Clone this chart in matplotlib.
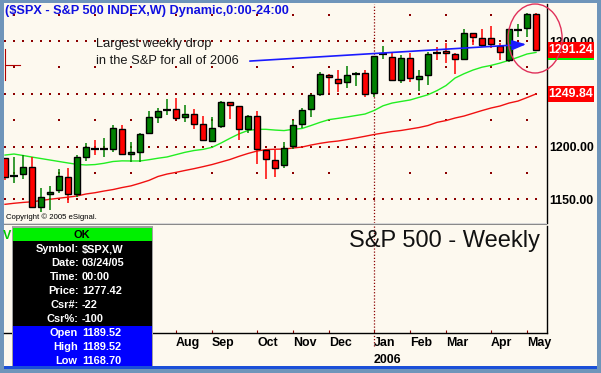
import numpy as np
import matplotlib.pyplot as plt
import matplotlib.transforms as mtransforms
from matplotlib.patches import Rectangle, Ellipse
from matplotlib.lines import Line2D

plt.rcParams['font.family'] = ['Liberation Sans', 'DejaVu Sans']

W, H = 601, 373

# weekly bars of $SPX, week ending 03/24/05 .. 05/12/06
opens = [1189.5, 1171.6, 1173.6, 1181.0, 1143.0, 1154.8, 1158.8, 1171.4, 1154.7, 1189.7,
         1198.0, 1197.6, 1197.6, 1216.5, 1192.8, 1194.6, 1213.0, 1227.7, 1233.9, 1235.3,
         1227.7, 1230.5, 1221.0, 1205.0, 1219.0, 1242.0, 1238.0, 1217.0, 1228.6, 1196.7,
         1187.0, 1182.5, 1200.5, 1221.0, 1235.3, 1249.8, 1268.0, 1264.3, 1261.0, 1268.4,
         1269.4, 1250.4, 1287.0, 1285.0, 1262.7, 1283.6, 1264.3, 1267.5, 1289.3, 1290.2,
         1287.4, 1283.2, 1307.3, 1302.6, 1302.6, 1295.3, 1282.0, 1310.3, 1312.3, 1325.6]
highs = [1189.5, 1189.7, 1192.0, 1190.0, 1160.4, 1162.5, 1178.4, 1179.3, 1192.0, 1203.6,
         1206.2, 1207.8, 1220.0, 1220.0, 1204.0, 1213.0, 1233.6, 1236.8, 1245.0, 1246.0,
         1239.3, 1236.0, 1229.0, 1227.7, 1243.0, 1242.5, 1238.5, 1229.9, 1233.6, 1197.5,
         1196.7, 1204.0, 1225.0, 1236.5, 1249.7, 1270.6, 1268.5, 1273.0, 1276.3, 1271.0,
         1272.3, 1286.0, 1295.3, 1288.5, 1286.7, 1289.0, 1272.3, 1289.6, 1294.6, 1298.4,
         1289.0, 1311.0, 1307.8, 1311.0, 1314.0, 1297.8, 1311.5, 1316.0, 1326.5, 1326.5]
lows = [1168.7, 1165.7, 1169.0, 1142.0, 1138.2, 1140.0, 1155.6, 1146.7, 1152.5, 1186.5,
        1192.0, 1190.5, 1194.5, 1192.0, 1185.0, 1185.0, 1211.6, 1222.0, 1229.9, 1227.0,
        1223.5, 1217.0, 1205.0, 1205.0, 1218.0, 1226.0, 1206.0, 1212.8, 1183.4, 1169.0,
        1171.4, 1179.5, 1198.0, 1217.8, 1227.6, 1247.6, 1250.4, 1252.0, 1255.5, 1257.6,
        1247.4, 1246.9, 1283.0, 1261.9, 1260.2, 1261.6, 1252.4, 1258.6, 1282.0, 1279.4,
        1268.7, 1282.5, 1296.2, 1294.6, 1293.7, 1282.0, 1280.5, 1304.0, 1303.5, 1290.5]
closes = [1171.4, 1172.0, 1180.9, 1143.0, 1151.8, 1157.0, 1171.8, 1154.7, 1189.7, 1199.2,
          1197.6, 1198.0, 1217.2, 1192.9, 1194.6, 1211.8, 1227.7, 1233.6, 1234.3, 1227.3,
          1230.8, 1221.0, 1206.0, 1218.0, 1242.0, 1239.0, 1216.3, 1228.6, 1197.3, 1187.9,
          1180.0, 1198.4, 1220.0, 1234.3, 1248.5, 1268.4, 1265.6, 1260.0, 1267.5, 1268.7,
          1249.8, 1285.6, 1287.4, 1262.7, 1283.6, 1264.6, 1266.5, 1287.4, 1289.0, 1288.3,
          1282.7, 1307.9, 1303.5, 1296.2, 1296.9, 1289.9, 1311.0, 1310.6, 1325.6, 1291.24]

# moving averages (green = short, red = long)
ma_fast = [1191.9, 1192.9, 1191.5, 1190.0, 1188.6, 1187.2, 1185.8, 1184.4, 1183.1, 1182.5,
           1182.9, 1184.1, 1185.8, 1186.4, 1186.3, 1186.3, 1187.5, 1188.9, 1190.1, 1192.3,
           1194.5, 1196.2, 1197.3, 1199.2, 1203.3, 1207.8, 1212.0, 1215.2, 1216.3, 1216.3,
           1215.6, 1215.1, 1216.3, 1217.1, 1219.9, 1222.9, 1225.5, 1226.7, 1228.0, 1229.4,
           1230.8, 1234.1, 1238.6, 1241.2, 1242.7, 1244.1, 1246.6, 1249.1, 1253.0, 1257.8,
           1264.9, 1269.0, 1272.5, 1275.2, 1276.9, 1279.1, 1281.7, 1284.6, 1287.7, 1289.2]
ma_slow = [1145.2, 1146.2, 1147.0, 1147.6, 1148.8, 1150.0, 1151.0, 1152.0, 1153.1, 1155.0,
           1156.2, 1157.8, 1159.2, 1161.1, 1162.7, 1165.2, 1167.9, 1171.6, 1173.9, 1175.5,
           1177.3, 1179.0, 1180.9, 1182.9, 1185.3, 1187.7, 1190.7, 1193.4, 1195.7, 1197.1,
           1197.4, 1197.6, 1198.6, 1199.5, 1201.4, 1203.0, 1204.3, 1205.2, 1206.6, 1208.1,
           1209.7, 1211.4, 1212.8, 1214.2, 1215.2, 1216.6, 1218.0, 1219.9, 1222.9, 1224.6,
           1227.0, 1228.9, 1231.5, 1234.1, 1236.5, 1238.4, 1241.2, 1243.1, 1246.4, 1249.84]

# first bar of each month (Apr..Jul 2005 sit under the data window)
grid_bars = [1, 6, 10, 14, 19, 23, 28, 32, 36, 41, 45, 49, 54, 58]
tick_bars = [19, 23, 28, 32, 36, 41, 45, 49, 54, 58]
tick_labels = ['Aug', 'Sep', 'Oct', 'Nov', 'Dec', 'Jan', 'Feb', 'Mar', 'Apr', 'May']
year_bar = 41
year_label = '2006'
price_ticks = [1150, 1200, 1250, 1300]
price_tick_labels = ['1150.00', '1200.00', '', '1300.00']

info_rows = [('Symbol:', '$SPX,W'), ('Date:', '03/24/05'), ('Time:', '00:00'),
             ('Price:', '1277.42'), ('Csr#:', '-22'), ('Csr%:', '-100')]
ohlc_rows = [('Open', '1189.52'), ('High', '1189.52'), ('Low', '1168.70')]

# annotation (bar index, price)
arrow_from = (27.2, 1281.0)
arrow_to = (57.9, 1296.9)
circle_center = (58.9, 1302.4)
circle_size = (6.0, 65.4)

FRAME = '#6f95ba'
CREAM = '#fdf9ef'
GREEN = '#008000'
RED = '#ff0000'
GRID = '#8b0000'


def fx(px):
    return px / W


def fy(py):
    return 1 - py / H


def figRect(x0, y0, x1, y1, color, z):
    fig.add_artist(Rectangle((fx(x0), fy(y1)), (x1 - x0) / W, (y1 - y0) / H,
                             transform=fig.transFigure, facecolor=color,
                             edgecolor='none', zorder=z))


fig = plt.figure(figsize=(W / 100, H / 100), dpi=100)
fig.patch.set_facecolor(FRAME)
figRect(4, 3, 597, 366, CREAM, -2)

# ---- price pane ----
ax = fig.add_axes([fx(4), fy(223), 543 / W, 219 / H])
ax.set_facecolor('none')
ax.set_zorder(1)
ax.set_xlim(-0.11, 60.22)
ax.set_ylim(1127.5, 1335.1)
for s in ['left', 'top', 'bottom']:
    ax.spines[s].set_visible(False)
ax.spines['right'].set_color('black')
ax.spines['right'].set_linewidth(1.0)
ax.set_xticks([])
ax.yaxis.tick_right()
ax.set_yticks(price_ticks)
ax.set_yticklabels(price_tick_labels, fontweight='bold', fontsize=8.9)
ax.tick_params(axis='y', length=0, pad=1.5)

x = np.arange(len(closes))
o = np.array(opens)
c = np.array(closes)

# dotted grid
for lev in price_ticks:
    ax.scatter(x, [lev] * len(x), s=0.9, marker='s', color=GRID, lw=0, zorder=0.5)
grid_levels = np.arange(1150, 1330, 25)
for b in grid_bars:
    if b != year_bar:
        ax.scatter([b] * len(grid_levels), grid_levels, s=0.9, marker='s',
                   color=GRID, lw=0, zorder=0.5)
ax.axvline(year_bar, color=GRID, lw=0.9, ls=(0, (1, 1.5)), zorder=0.5)

# moving averages
ax.plot(x, ma_slow, color='#f01010', lw=1.0, zorder=1)
ax.plot(x, ma_fast, color='#22ee22', lw=1.0, zorder=1)

# candles
up = c >= o
ax.vlines(x, lows, highs, colors=np.where(up, GREEN, RED), lw=1.1, zorder=2)
doji = np.abs(c - o) < 1.0
body = ~doji
ax.bar(x[body], (c - o)[body], bottom=o[body], width=0.68,
       color=np.where(up, GREEN, RED)[body], edgecolor='black', lw=1.0, zorder=3)
ax.hlines(c[doji], x[doji] - 0.42, x[doji] + 0.42, color='black', lw=1.6, zorder=3)

# price tags on the right axis
blend = mtransforms.blended_transform_factory(ax.transAxes, ax.transData)
tag_h = 14.8
for val, col in [(ma_fast[-1], '#00ee00'), (closes[-1], RED), (ma_slow[-1], RED)]:
    ax.add_patch(Rectangle((1.002, val - tag_h / 2), 0.085, tag_h, transform=blend,
                           facecolor=col, edgecolor='none', clip_on=False, zorder=5))
for val in [closes[-1], ma_slow[-1]]:
    ax.text(1.044, val, '%.2f' % val, transform=blend, color='white', fontweight='bold',
            fontsize=8.9, ha='center', va='center', zorder=6, clip_on=False)

# arrow and circle
ax.annotate('', xy=arrow_to, xytext=arrow_from,
            arrowprops=dict(arrowstyle='-|>,head_length=0.7,head_width=0.25',
                            color='#1a1aff', lw=1.2, shrinkA=0, shrinkB=0,
                            mutation_scale=12), zorder=4)
ax.add_patch(Ellipse(circle_center, circle_size[0], circle_size[1], fill=False,
                     edgecolor='#e0305a', lw=1.0, clip_on=False, zorder=7))

# ---- lower pane ----
ax2 = fig.add_axes([fx(4), fy(333), 543 / W, 107 / H])
ax2.set_facecolor('none')
ax2.set_zorder(1)
ax2.set_xlim(ax.get_xlim())
ax2.set_ylim(0, 1)
for s in ['left', 'top']:
    ax2.spines[s].set_visible(False)
ax2.spines['right'].set_linewidth(1.0)
ax2.spines['bottom'].set_linewidth(1.0)
ax2.set_yticks([])
ax2.set_xticks(tick_bars)
ax2.set_xticklabels(tick_labels, ha='left', fontweight='bold', fontsize=8.9)
ax2.tick_params(axis='x', length=2, direction='in', color=GRID, pad=2.8)
ax2.axvline(year_bar, ymin=-0.12, ymax=1, color=GRID, lw=0.9, ls=(0, (1, 1.5)),
            clip_on=False)
ax2.text(year_bar, -0.25, year_label, transform=mtransforms.blended_transform_factory(
    ax2.transData, ax2.transAxes), ha='left', va='center', fontweight='bold', fontsize=8.9)
ax2.text(0.988, 0.86, 'S&P 500 - Weekly', transform=ax2.transAxes, ha='right',
         va='center', fontsize=17, color='#111111')

# pane separator
figRect(4, 222.5, 547, 223.7, '#d8d8d8', 2)
figRect(4, 223.7, 547, 225.2, '#8a8a8a', 2)

# title and texts
fig.text(fx(5), fy(11), '($SPX - S&P 500 INDEX,W) Dynamic,0:00-24:00', color='#1010e0',
         fontweight='bold', fontsize=9.2, ha='left', va='center')
fig.text(fx(96), fy(44), 'Largest weekly drop', fontsize=9.3, color='#1a1a1a',
         ha='left', va='center')
fig.text(fx(96), fy(61), 'in the S&P for all of 2006', fontsize=9.3, color='#1a1a1a',
         ha='left', va='center')
fig.text(fx(6), fy(217.5), 'Copyright \u00a9 2005 eSignal.', fontsize=5.6,
         ha='left', va='center', zorder=3)

# cursor cross
fig.add_artist(Line2D([fx(5), fx(5)], [fy(49), fy(80)], color='#b00000', lw=0.8))
fig.add_artist(Line2D([fx(5), fx(20)], [fy(65), fy(65)], color='#b00000', lw=0.8))

# ---- data window ----
figRect(12, 226, 153, 366, '#a0a0a0', 5)
figRect(13, 227.5, 151.5, 366, 'black', 5)
figRect(13, 227.5, 151.5, 241, '#00f000', 5)
figRect(13, 326, 151.5, 366, '#0000ff', 5)
fig.text(fx(82), fy(234.5), 'OK', fontweight='bold', fontsize=7.9, ha='center',
         va='center', zorder=6)
for k, (lab, val) in enumerate(info_rows):
    yy = 249.3 + 14 * k
    fig.text(fx(78.5), fy(yy), lab, color='white', fontweight='bold', fontsize=7.9,
             ha='right', va='center', zorder=6)
    fig.text(fx(82), fy(yy), val, color='white', fontweight='bold', fontsize=7.9,
             ha='left', va='center', zorder=6)
for k, (lab, val) in enumerate(ohlc_rows):
    yy = 333.3 + 14 * k
    fig.text(fx(77.5), fy(yy), lab, color='white', fontweight='bold', fontsize=7.9,
             ha='right', va='center', zorder=6)
    fig.text(fx(82), fy(yy), val, color='white', fontweight='bold', fontsize=7.9,
             ha='left', va='center', zorder=6)
figRect(4, 366, 597, 369, '#1a4fd8', 6)
figRect(0, 369, 601, 373, FRAME, 6)
fig.text(fx(3), fy(236), 'V', color='#00cc00', fontweight='bold', fontsize=9,
         ha='left', va='center', zorder=6)

fig.savefig('out.png', dpi=100, facecolor=fig.get_facecolor())
